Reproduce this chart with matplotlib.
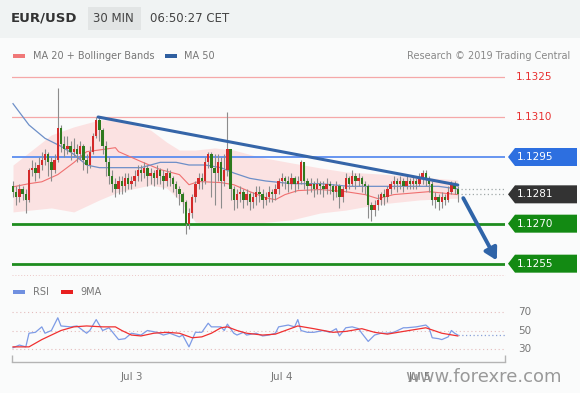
import matplotlib
matplotlib.use('Agg')
import matplotlib.pyplot as plt
import matplotlib.transforms as mtransforms
from matplotlib.patches import Polygon, Rectangle
from matplotlib.lines import Line2D
import numpy as np

# ---------------- data ----------------
PIP_BASE = 1.1200  # values below are in pips above 1.1200
opens = [84, 82, 80, 83, 81, 79, 90, 91, 89, 92, 94, 96, 93, 90, 94, 106, 100, 98, 99, 97,
         98, 96, 99, 94, 92, 97, 103, 109, 105, 99, 93, 88, 85, 83, 86, 84, 87, 85, 86, 88,
         90, 89, 91, 88, 89, 87, 90, 88, 86, 89, 87, 85, 83, 81, 78, 70, 74, 80, 85, 87,
         86, 93, 96, 91, 89, 93, 86, 90, 98, 83, 79, 81, 82, 79, 81, 78, 80, 82, 81, 79,
         80, 82, 81, 83, 86, 87, 86, 85, 87, 85, 86, 93, 86, 84, 85, 83, 85, 84, 83, 85,
         84, 82, 84, 80, 83, 87, 85, 88, 86, 87, 85, 84, 77, 75, 77, 79, 81, 80, 83, 85,
         86, 85, 86, 84, 86, 85, 86, 85, 87, 89, 87, 85, 79, 80, 78, 80, 79, 82, 85, 83]
closes = [82, 80, 83, 81, 79, 90, 91, 89, 92, 94, 96, 93, 90, 94, 106, 100, 98, 99, 97, 98,
          96, 99, 94, 92, 97, 103, 109, 105, 99, 93, 88, 85, 83, 86, 84, 87, 85, 86, 88, 90,
          89, 91, 88, 89, 87, 90, 88, 86, 89, 87, 85, 83, 81, 78, 70, 74, 80, 85, 87, 86,
          93, 96, 91, 89, 93, 86, 90, 98, 83, 79, 81, 82, 79, 81, 78, 80, 82, 81, 79, 80,
          82, 81, 83, 86, 87, 86, 85, 87, 85, 86, 93, 86, 84, 85, 83, 85, 84, 83, 85, 84,
          82, 84, 80, 83, 87, 85, 88, 86, 87, 85, 84, 77, 75, 77, 79, 81, 80, 83, 85, 86,
          85, 86, 84, 86, 85, 86, 85, 87, 89, 87, 85, 79, 80, 78, 80, 79, 82, 85, 83, 81]
highs = [86, 84, 85, 84, 83, 91, 94, 93, 95, 97, 98, 97, 95, 96, 121, 107, 103, 103, 101, 102,
         100, 101, 100, 96, 99, 104, 110, 110, 106, 101, 95, 90, 87, 88, 88, 89, 89, 88, 90, 92,
         92, 93, 92, 91, 90, 92, 91, 90, 91, 90, 88, 86, 84, 82, 79, 76, 81, 86, 89, 89,
         95, 97, 97, 96, 96, 95, 96, 112, 98, 84, 83, 84, 83, 83, 82, 82, 84, 84, 83, 82,
         84, 83, 85, 87, 89, 88, 88, 89, 88, 88, 94, 93, 87, 87, 86, 87, 86, 86, 87, 86,
         85, 86, 85, 84, 89, 88, 90, 89, 89, 88, 86, 85, 78, 79, 81, 82, 83, 84, 86, 88,
         87, 88, 87, 88, 87, 88, 87, 89, 90, 90, 88, 86, 82, 81, 82, 81, 84, 86, 86, 84]
lows = [80, 77, 78, 79, 74, 78, 88, 86, 87, 90, 92, 88, 86, 89, 93, 97, 95, 96, 94, 95,
        93, 94, 90, 89, 91, 96, 102, 101, 96, 88, 85, 82, 80, 81, 81, 82, 83, 83, 84, 86,
        86, 87, 84, 85, 84, 85, 85, 83, 84, 84, 82, 80, 77, 74, 66, 68, 72, 78, 83, 83,
        85, 91, 80, 77, 86, 76, 84, 88, 79, 75, 76, 78, 76, 77, 75, 76, 77, 78, 76, 77,
        78, 78, 79, 81, 84, 83, 82, 83, 82, 83, 85, 83, 81, 82, 80, 81, 81, 80, 81, 81,
        79, 80, 76, 78, 82, 83, 84, 83, 84, 82, 81, 72, 71, 73, 75, 77, 77, 78, 81, 83,
        82, 83, 82, 83, 83, 83, 83, 84, 85, 84, 82, 77, 76, 75, 76, 77, 78, 81, 81, 78]

# moving averages / bands (bar index, price)
ma20_idx = [0, 5, 9, 14, 19, 23, 28, 32, 33, 40, 46, 52, 55, 58, 65, 69, 74, 79, 82, 85, 89, 96, 104, 110, 114, 119, 130, 139]
ma20 = [1.12838, 1.1285, 1.12857, 1.12884, 1.12929, 1.1297, 1.12978, 1.12985, 1.1297, 1.12933,
        1.12903, 1.12884, 1.12846, 1.12858, 1.12854, 1.12846, 1.1282, 1.12797, 1.1279, 1.12809,
        1.12824, 1.12828, 1.1282, 1.12809, 1.12794, 1.12809, 1.1282, 1.12809]
ma50_idx = [0, 5, 10, 15, 19, 23, 27, 33, 40, 46, 51, 55, 60, 65, 69, 74, 79, 87, 96, 105, 115, 124, 133, 139]
ma50 = [1.1315, 1.1307, 1.1302, 1.1299, 1.1296, 1.1292, 1.1291, 1.1291, 1.1291, 1.1293, 1.1293, 1.1292,
        1.1292, 1.1291, 1.1289, 1.1287, 1.1286, 1.1285, 1.1285, 1.1284, 1.1284, 1.1284, 1.1284, 1.1283]
bb_idx = [0, 12, 19, 27, 33, 43, 48, 52, 57, 63, 69, 77, 87, 96, 104, 115, 127, 139]
bb_upper = [1.1292, 1.13033, 1.13063, 1.13089, 1.13089, 1.13051, 1.13006, 1.12976, 1.12976,
            1.12984, 1.12976, 1.1295, 1.12928, 1.12909, 1.12894, 1.12886, 1.12875, 1.12864]
bb_lower = [1.12744, 1.12759, 1.12744, 1.12789, 1.12819, 1.12845, 1.12834, 1.12789, 1.12706,
            1.12699, 1.12699, 1.12703, 1.12714, 1.1274, 1.12751, 1.12774, 1.12789, 1.12796]

# analyst levels
red_levels = [1.1325, 1.1310]
blue_levels = [1.1295]
green_levels = [1.1270, 1.1255]
last_price = 1.1281
last_ma = 1.1283
trend_idx = [26.6, 139]
trend_px = [1.1310, 1.12845]
arrow_idx = [140.3, 151.6]
arrow_px = [1.12805, 1.12553]

# RSI
rsi_idx = [0, 2, 4, 5, 7, 9, 10, 12, 14, 15, 18, 20, 23, 24, 26, 28, 30, 33, 35, 37, 40, 42, 45, 47, 49,
           52, 53, 55, 56, 57, 59, 61, 62, 65, 66, 67, 69, 70, 72, 73, 76, 78, 80, 82, 83, 86, 88, 89, 90,
           92, 94, 97, 99, 101, 102, 104, 106, 108, 109, 111, 113, 115, 117, 119, 122, 123, 126, 129, 130,
           131, 133, 134, 136, 137, 138, 139]
rsi = [31, 34, 32, 47, 48, 54, 47, 50, 64, 55, 54, 55, 47, 50, 62, 50, 53, 40, 41, 47, 45, 50, 48, 45, 47,
       43, 45, 32, 40, 48, 48, 58, 54, 54, 50, 57, 47, 45, 48, 45, 47, 44, 45, 47, 54, 56, 54, 62, 50,
       48, 48, 50, 48, 52, 44, 53, 54, 52, 47, 38, 45, 47, 47, 48, 53, 53, 54, 56, 53,
       42, 41, 40, 43, 50, 47, 45]
ma9_idx = [0, 5, 9, 12, 15, 19, 23, 28, 32, 34, 37, 40, 44, 48, 52, 56, 59, 62, 65, 67, 70, 73, 78, 82,
           89, 94, 100, 104, 109, 113, 117, 122, 129, 134, 139]
ma9 = [32, 32, 40, 45, 50, 54, 55, 54, 54, 50, 45, 44, 47, 48, 47, 42, 43, 47, 53, 54, 50, 47, 45, 46,
       55, 52, 48, 49, 52, 48, 46, 49, 53, 47, 44]
rsi_levels = [70, 50, 30]

tick_idx = [37, 84, 127]
tick_labels = ['Jul 3', 'Jul 4', 'Jul 5']

# ---------------- layout ----------------
W, H = 580, 393
fig = plt.figure(figsize=(W / 100, H / 100), dpi=100)
fig.patch.set_facecolor('#fafbfb')


def fx(x):
    return x / W


def fy(y):
    return 1 - y / H


fig.add_artist(Rectangle((0, fy(38)), 1, 38 / H, transform=fig.transFigure,
                         facecolor='#f0f3f3', edgecolor='none', zorder=0))

# header
fig.text(fx(11), fy(18), 'EUR/USD', fontsize=9.5, fontweight='bold', color='#333333', va='center')
fig.add_artist(Rectangle((fx(88), fy(30)), 53 / W, 23 / H, transform=fig.transFigure,
                         facecolor='#e2e5e5', edgecolor='none', zorder=1))
fig.text(fx(93), fy(18), '30 MIN', fontsize=8.5, color='#444444', va='center', zorder=2)
fig.text(fx(150), fy(18), '06:50:27 CET', fontsize=8.5, color='#444444', va='center')

# legend row
fig.add_artist(Rectangle((fx(13), fy(58)), 12 / W, 4 / H, transform=fig.transFigure,
                         facecolor='#f07878', edgecolor='none'))
fig.text(fx(33), fy(56), 'MA 20 + Bollinger Bands', fontsize=7, color='#777777', va='center')
fig.add_artist(Rectangle((fx(165), fy(58)), 12 / W, 4 / H, transform=fig.transFigure,
                         facecolor='#2f5fa0', edgecolor='none'))
fig.text(fx(184), fy(56), 'MA 50', fontsize=7, color='#777777', va='center')
fig.text(fx(570), fy(56), 'Research \u00a9 2019 Trading Central', fontsize=7, color='#888888',
         va='center', ha='right')

# ---------------- main chart ----------------
XL = ((12 - 13) / 3.2, (505 - 13) / 3.2)
ax = fig.add_axes([fx(12), fy(280), (505 - 12) / W, 220 / H])
ax.set_xlim(*XL)
ax.set_ylim(1.1325 - (280 - 77) * 0.0000375, 1.1325 + 17 * 0.0000375)
ax.axis('off')
ax.set_facecolor('none')

ax.fill_between(bb_idx, bb_lower, bb_upper, color='#fcdcdc', alpha=0.8, lw=0, zorder=1)
ax.plot(ma20_idx, ma20, color='#f07070', lw=0.8, zorder=2)
ax.plot(ma50_idx, ma50, color='#6d8fc8', lw=0.9, zorder=2)

for lv in red_levels:
    ax.axhline(lv, color='#f5a8a8', lw=0.9, zorder=1)
for lv in blue_levels:
    ax.axhline(lv, color='#5b8def', lw=1.3, zorder=1)
for lv in green_levels:
    ax.axhline(lv, color='#1e8c1e', lw=2, zorder=1)

o = PIP_BASE + np.array(opens) / 10000
c = PIP_BASE + np.array(closes) / 10000
hi = PIP_BASE + np.array(highs) / 10000
lo = PIP_BASE + np.array(lows) / 10000
idx = np.arange(len(c))
ax.vlines(idx, lo, hi, color='#8c8c8c', lw=0.8, zorder=3)
bottoms = np.minimum(o, c)
heights = np.maximum(np.abs(c - o), 0.00004)
cols = ['#d42a2a' if cc > oo else '#2e7a1e' for oo, cc in zip(o, c)]
ax.bar(idx, heights, bottom=bottoms, width=0.72, color=cols, lw=0, zorder=4)

ax.plot(trend_idx, trend_px, color='#3565a8', lw=2.2, zorder=5, solid_capstyle='round')
ax.annotate('', xy=(arrow_idx[1], arrow_px[1]), xytext=(arrow_idx[0], arrow_px[0]),
            arrowprops=dict(arrowstyle='-|>,head_length=0.7,head_width=0.4', color='#2f64a8', lw=2.8),
            annotation_clip=False, zorder=6)

ax.hlines([last_ma, last_price], len(c), XL[1], color='#a0a8a8', lw=0.9, linestyles=(0, (1, 2)), zorder=2)

trans = mtransforms.blended_transform_factory(fig.transFigure, ax.transData)
hh = 9 * 0.0000375
for lv in red_levels:
    ax.text(fx(516), lv, f'{lv:.4f}', transform=trans, color='#e83030', fontsize=7.5,
            va='center', clip_on=False)
boxes = [(blue_levels[0], '#2d6fe0'), (last_price, '#333333'),
         (green_levels[0], '#138a13'), (green_levels[1], '#138a13')]
for lv, col in boxes:
    pts = [(fx(508), lv), (fx(515), lv + hh), (fx(577), lv + hh), (fx(577), lv - hh), (fx(515), lv - hh)]
    ax.add_patch(Polygon(pts, closed=True, transform=trans, facecolor=col, edgecolor='none',
                         clip_on=False, zorder=7))
    ax.text(fx(517), lv, f'{lv:.4f}', transform=trans, color='white', fontsize=7.5,
            va='center', clip_on=False, zorder=8)

# separator
fig.add_artist(Line2D([fx(12), fx(505)], [fy(275), fy(275)], transform=fig.transFigure,
                      color='#ecc8c8', lw=0.7, ls=(0, (1, 2))))

# RSI legend
fig.add_artist(Rectangle((fx(13), fy(294)), 12 / W, 4 / H, transform=fig.transFigure,
                         facecolor='#7090e0', edgecolor='none'))
fig.text(fx(33), fy(292), 'RSI', fontsize=7, color='#777777', va='center')
fig.add_artist(Rectangle((fx(61), fy(294)), 12 / W, 4 / H, transform=fig.transFigure,
                         facecolor='#e82020', edgecolor='none'))
fig.text(fx(80), fy(292), '9MA', fontsize=7, color='#777777', va='center')

# ---------------- RSI panel ----------------
rax = fig.add_axes([fx(12), fy(362), (505 - 12) / W, (362 - 295) / H])
rax.set_xlim(*XL)
rax.set_ylim(50 - (362 - 330.5) * 1.1, 50 + (330.5 - 295) * 1.1)
rax.set_facecolor('none')
for s in ['top', 'left', 'right']:
    rax.spines[s].set_visible(False)
rax.spines['bottom'].set_color('#b4b4b4')
rax.spines['bottom'].set_linewidth(1)
rax.set_yticks([])
rax.set_xticks(tick_idx)
rax.set_xticklabels(tick_labels)
rax.tick_params(axis='x', length=0, labelsize=7.5, labelcolor='#777777', pad=7)
rax.set_xticks([XL[0] + 0.05, XL[1] - 0.05], minor=True)
rax.tick_params(axis='x', which='minor', direction='in', length=5, color='#b4b4b4', width=1)

rtrans = mtransforms.blended_transform_factory(fig.transFigure, rax.transData)
for lv in rsi_levels:
    rax.axhline(lv, color='#e4bcbc', lw=0.8, ls=(0, (1, 2.5)), zorder=1)
    rax.text(fx(518), lv, str(lv), transform=rtrans, fontsize=7.5, color='#777777',
             va='center', clip_on=False)
rax.plot(ma9_idx, ma9, color='#f03030', lw=0.9, zorder=3)
rax.plot(rsi_idx, rsi, color='#7d9be6', lw=0.9, zorder=2)
rax.hlines(rsi[-1], rsi_idx[-1], XL[1], color='#8aa0d8', lw=0.9, linestyles=(0, (1, 2)), zorder=2)

# watermark
fig.text(fx(405), fy(377), 'www.forexre.com', fontsize=13, color='#888888', alpha=0.85,
         va='center', zorder=10)

fig.savefig('out.png', dpi=100, facecolor=fig.get_facecolor())
